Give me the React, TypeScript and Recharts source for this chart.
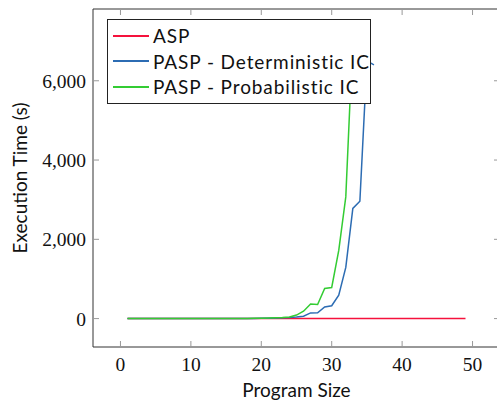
import { LineChart, Line, XAxis, YAxis, Legend, Label } from 'recharts';

// program sizes on the x axis
const programSize = [
  1, 2, 3, 4, 5, 6, 7, 8, 9, 10, 11, 12, 13, 14, 15, 16, 17, 18, 19, 20, 21, 22, 23, 24, 25,
  26, 27, 28, 29, 30, 31, 32, 33, 34, 35, 36, 37, 38, 39, 40, 41, 42, 43, 44, 45, 46, 47, 48, 49,
];

// execution time (s)
const aspTime = [
  0, 0, 0, 0, 0, 0, 0, 0, 0, 0, 0, 0, 0, 0, 0, 0, 0, 0, 0, 0, 0, 0, 0, 0, 0,
  0, 0, 0, 0, 0, 0, 0, 0, 0, 0, 0, 0, 0, 0, 0, 0, 0, 0, 0, 0, 0, 0, 0, 0,
];
const deterministicTime = [
  0, 0, 0, 0, 0, 0, 0, 0, 0, 1, 1, 1, 1, 2, 2, 3, 3, 4, 5, 7, 9, 13, 18, 25, 38,
  60, 143, 145, 295, 325, 590, 1290, 2780, 2960, 6500, 6400,
];
const probabilisticTime = [
  0, 0, 0, 0, 0, 0, 0, 0, 0, 1, 1, 1, 2, 2, 3, 3, 4, 5, 7, 10, 14, 20, 28, 42, 88,
  185, 370, 355, 760, 785, 1720, 3070, 7100,
];

const xTicks = [0, 10, 20, 30, 40, 50];
const yTicks = [0, 2000, 4000, 6000];

const SERIES = [
  { key: 'asp', name: 'ASP', color: '#f5123c' },
  { key: 'det', name: 'PASP - Deterministic IC', color: '#2c6cb3' },
  { key: 'prob', name: 'PASP - Probabilistic IC', color: '#33cc33' },
];

const data = programSize.map((x, i) => ({
  x,
  asp: aspTime[i],
  det: deterministicTime[i],
  prob: probabilisticTime[i],
}));

const SANS = 'Lato, sans-serif';
const SERIF = '"Liberation Serif", serif';
const X_DOMAIN = [-3.9, 53.9];
const Y_DOMAIN = [-717, 7811];

const fmt = (v: number) => v.toLocaleString('en-US');
const blank = () => '';

function LegendBox() {
  return (
    <div
      style={{
        boxSizing: 'border-box',
        width: 264,
        height: 85,
        background: '#fff',
        border: '1px solid #222',
        padding: '3px 0 0 5px',
        fontFamily: SANS,
        fontSize: 19,
        letterSpacing: 0.9,
        color: '#111',
      }}
    >
      {SERIES.map((s) => (
        <div key={s.key} style={{ display: 'flex', alignItems: 'center', height: 25.5 }}>
          <div style={{ width: 36, height: 1.6, background: s.color, marginRight: 4 }} />
          <span style={{ whiteSpace: 'nowrap' }}>{s.name}</span>
        </div>
      ))}
    </div>
  );
}

export default function App() {
  return (
    <div style={{ position: 'absolute', left: 0, top: 0, width: 497, height: 407, overflow: 'hidden', background: '#fff' }}>
      <LineChart width={502} height={407} data={data} margin={{ top: 8, right: 1, bottom: 0, left: 0 }}>
        <XAxis
          dataKey="x"
          type="number"
          domain={X_DOMAIN}
          ticks={xTicks}
          height={60}
          tickSize={-6}
          tickMargin={16}
          tick={{ fontFamily: SERIF, fontSize: 19.5, fill: '#111' }}
          axisLine={{ stroke: '#333' }}
          tickLine={{ stroke: '#999' }}
          allowDataOverflow
        >
          <Label value="Program Size" position="insideBottom" offset={10} style={{ fontFamily: SANS, fontSize: 19, fill: '#111' }} />
        </XAxis>
        <XAxis
          xAxisId="top"
          dataKey="x"
          orientation="top"
          type="number"
          domain={X_DOMAIN}
          ticks={xTicks}
          height={1}
          tickSize={-6}
          tickFormatter={blank}
          axisLine={{ stroke: '#333' }}
          tickLine={{ stroke: '#999' }}
          allowDataOverflow
        />
        <YAxis
          type="number"
          domain={Y_DOMAIN}
          ticks={yTicks}
          width={93}
          tickSize={-6}
          tickMargin={13}
          tickFormatter={fmt}
          tick={{ fontFamily: SERIF, fontSize: 19.5, fill: '#111' }}
          axisLine={{ stroke: '#333' }}
          tickLine={{ stroke: '#999' }}
          allowDataOverflow
        >
          <Label
            value="Execution Time (s)"
            angle={-90}
            position="insideLeft"
            offset={20.5}
            style={{ fontFamily: SANS, fontSize: 19, fill: '#111', textAnchor: 'middle' }}
          />
        </YAxis>
        <YAxis
          yAxisId="right"
          orientation="right"
          type="number"
          domain={Y_DOMAIN}
          ticks={yTicks}
          width={1}
          tickSize={-6}
          tickFormatter={blank}
          axisLine={{ stroke: '#333' }}
          tickLine={{ stroke: '#999' }}
          allowDataOverflow
        />
        {/* invisible series so the mirrored top/right axes get drawn */}
        <Line
          xAxisId="top"
          yAxisId="right"
          dataKey="asp"
          stroke="none"
          dot={false}
          legendType="none"
          isAnimationActive={false}
        />
        {SERIES.map((s) => (
          <Line
            key={s.key}
            dataKey={s.key}
            name={s.name}
            stroke={s.color}
            strokeWidth={1.5}
            dot={false}
            isAnimationActive={false}
            type="linear"
          />
        ))}
        <Legend
          layout="vertical"
          align="center"
          verticalAlign="middle"
          content={() => <LegendBox />}
          wrapperStyle={{ position: 'absolute', left: 107, top: 19, width: 'auto', height: 'auto' }}
        />
      </LineChart>
    </div>
  );
}
